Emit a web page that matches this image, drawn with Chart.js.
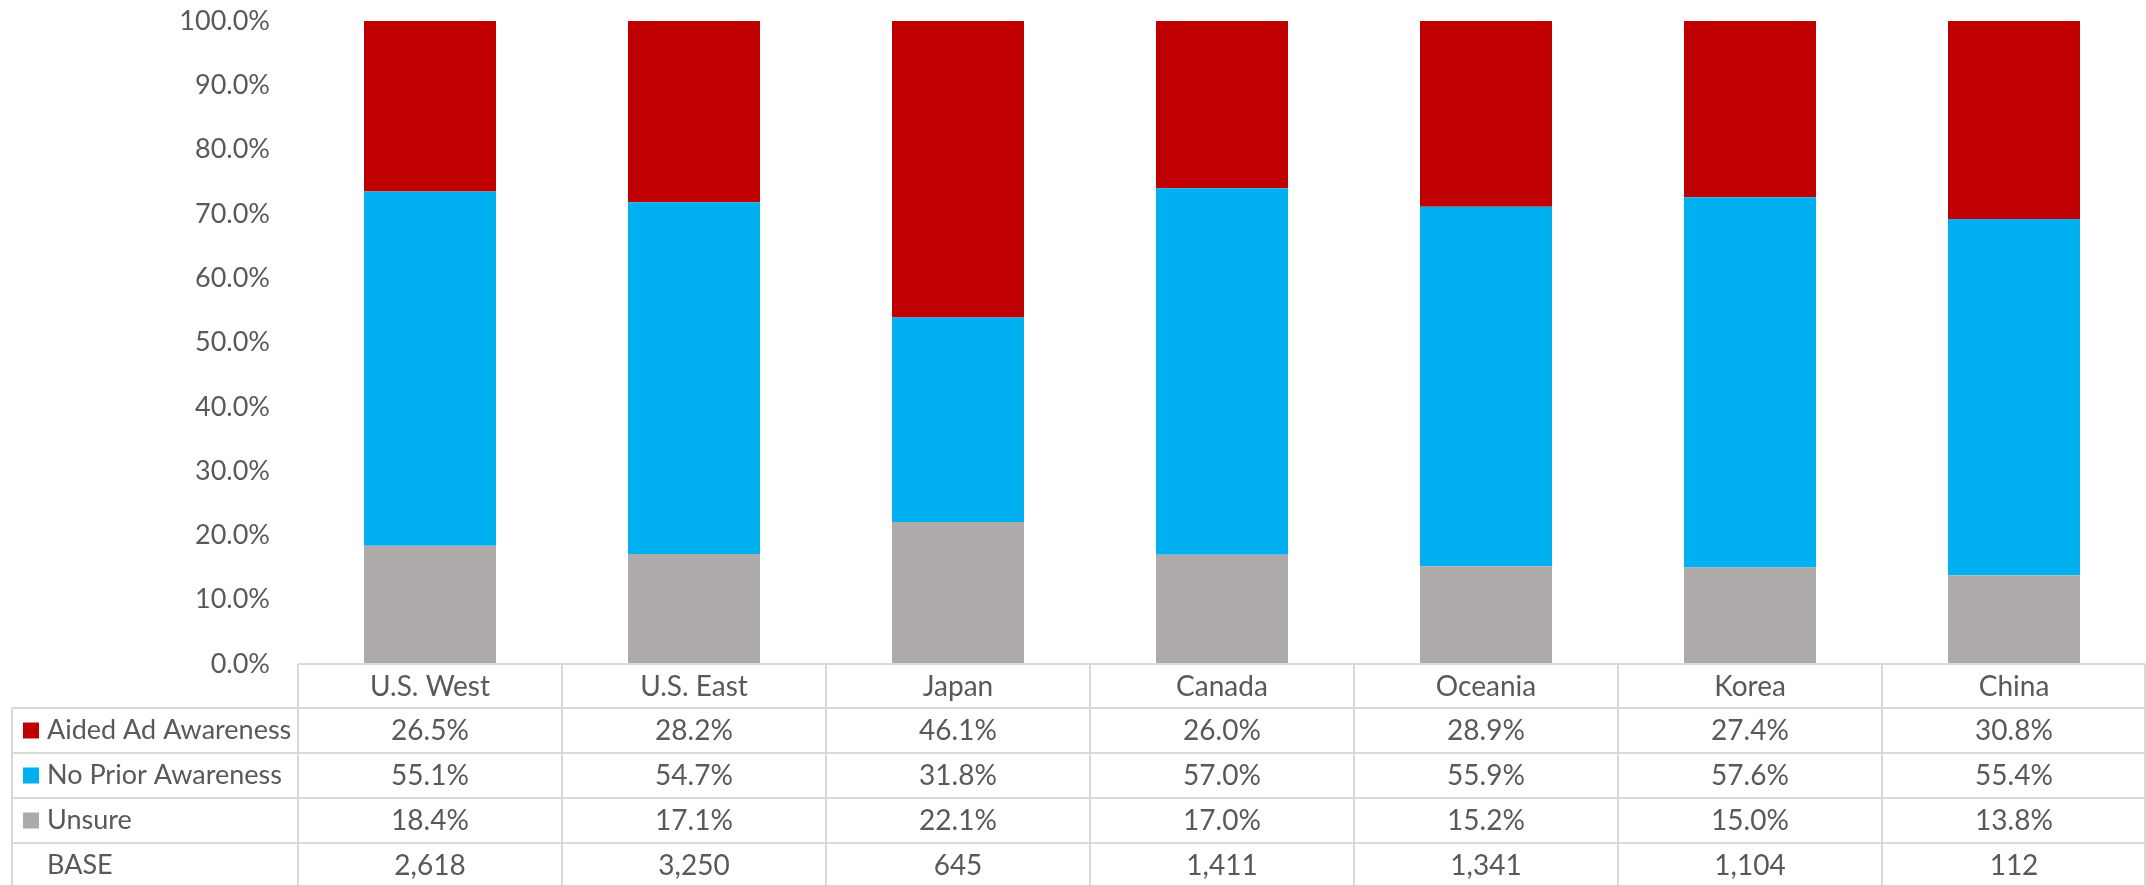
<!DOCTYPE html>
<html>
<head>
<meta charset="utf-8">
<script src="https://cdn.jsdelivr.net/npm/chart.js@4.4.1/dist/chart.umd.min.js"></script>
<style>
  html, body { margin: 0; padding: 0; background: #fff; }
  .chart-container { position: relative; width: 2146px; height: 885px; }
</style>
</head>
<body>
<div class="chart-container">
  <canvas id="awarenessChart"></canvas>
</div>
<script>
// Data
const regions = ['U.S. West', 'U.S. East', 'Japan', 'Canada', 'Oceania', 'Korea', 'China'];
const aidedAwareness = [26.5, 28.2, 46.1, 26.0, 28.9, 27.4, 30.8];
const noPriorAwareness = [55.1, 54.7, 31.8, 57.0, 55.9, 57.6, 55.4];
const unsure = [18.4, 17.1, 22.1, 17.0, 15.2, 15.0, 13.8];
const baseCounts = ['2,618', '3,250', '645', '1,411', '1,341', '1,104', '112'];
const yTicks = [0, 10, 20, 30, 40, 50, 60, 70, 80, 90, 100];

const textColor = '#595959';
const lineColor = '#d9d9d9';
const fontFamily = "Lato, 'Open Sans', sans-serif";

// Rows of the data table under the chart (top to bottom)
const tableRows = [
    { label: 'Aided Ad Awareness', color: '#C00000', values: aidedAwareness.map(v => v.toFixed(1) + '%') },
    { label: 'No Prior Awareness', color: '#00B0F0', values: noPriorAwareness.map(v => v.toFixed(1) + '%') },
    { label: 'Unsure', color: '#AEAAAA', values: unsure.map(v => v.toFixed(1) + '%') },
    { label: 'BASE', color: null, values: baseCounts }
];

const dataTablePlugin = {
    id: 'dataTable',
    afterDraw(chart) {
        const ctx = chart.ctx;
        const xScale = chart.scales.x;
        const area = chart.chartArea;
        const headerH = 44;
        const rowH = 45;
        const tableLeft = 12;
        const right = area.right - 1;
        const top = area.bottom;
        const firstRow = top + headerH;
        const bottom = chart.height + 10;
        const colW = (area.right - area.left) / regions.length;

        ctx.save();
        ctx.strokeStyle = lineColor;
        ctx.lineWidth = 2;
        ctx.beginPath();
        // header top line
        ctx.moveTo(area.left, top);
        ctx.lineTo(right, top);
        // row lines
        for (let r = 0; r < tableRows.length; r++) {
            const y = firstRow + r * rowH;
            ctx.moveTo(tableLeft, y);
            ctx.lineTo(right, y);
        }
        // vertical lines
        ctx.moveTo(tableLeft, firstRow);
        ctx.lineTo(tableLeft, bottom);
        for (let i = 0; i <= regions.length; i++) {
            const x = i === regions.length ? right : area.left + i * colW;
            ctx.moveTo(x, top);
            ctx.lineTo(x, bottom);
        }
        ctx.stroke();

        ctx.textBaseline = 'middle';
        tableRows.forEach((row, r) => {
            const cy = firstRow + r * rowH + rowH / 2;
            if (row.color) {
                ctx.fillStyle = row.color;
                ctx.fillRect(23, cy - 8, 16, 16);
            }
            ctx.fillStyle = textColor;
            ctx.font = '27px ' + fontFamily;
            ctx.textAlign = 'left';
            ctx.fillText(row.label, 47, cy);
            ctx.font = '28px ' + fontFamily;
            ctx.textAlign = 'center';
            row.values.forEach((v, i) => {
                ctx.fillText(v, xScale.getPixelForValue(i), cy);
            });
        });
        ctx.restore();
    }
};

const ctx = document.getElementById('awarenessChart').getContext('2d');
new Chart(ctx, {
    type: 'bar',
    data: {
        labels: regions,
        datasets: [
            { label: 'Unsure', data: unsure, backgroundColor: '#AEAAAA' },
            { label: 'No Prior Awareness', data: noPriorAwareness, backgroundColor: '#00B0F0' },
            { label: 'Aided Ad Awareness', data: aidedAwareness, backgroundColor: '#C00000' }
        ]
    },
    options: {
        responsive: true,
        maintainAspectRatio: false,
        animation: false,
        datasets: {
            bar: { barPercentage: 1, categoryPercentage: 0.5 }
        },
        layout: { padding: { top: 21, left: 0, right: 0, bottom: 0 } },
        plugins: {
            legend: { display: false },
            tooltip: { enabled: false }
        },
        scales: {
            x: {
                stacked: true,
                grid: { display: false, drawTicks: false },
                border: { display: false },
                ticks: {
                    color: textColor,
                    font: { family: fontFamily, size: 28 },
                    padding: 6,
                    autoSkip: false,
                    maxRotation: 0
                },
                afterFit(scale) {
                    scale.height = 221;
                    scale.paddingLeft = 0;
                    scale.paddingRight = 0;
                }
            },
            y: {
                stacked: true,
                min: 0,
                max: 100,
                grid: { display: false, drawTicks: false },
                border: { display: false },
                afterBuildTicks(scale) {
                    scale.ticks = yTicks.map(v => ({ value: v }));
                },
                ticks: {
                    color: textColor,
                    font: { family: fontFamily, size: 27 },
                    padding: 28,
                    callback: value => value.toFixed(1) + '%'
                },
                afterFit(scale) {
                    scale.width = 298;
                    scale.paddingTop = 0;
                    scale.paddingBottom = 0;
                }
            }
        }
    },
    plugins: [dataTablePlugin]
});
</script>
</body>
</html>
